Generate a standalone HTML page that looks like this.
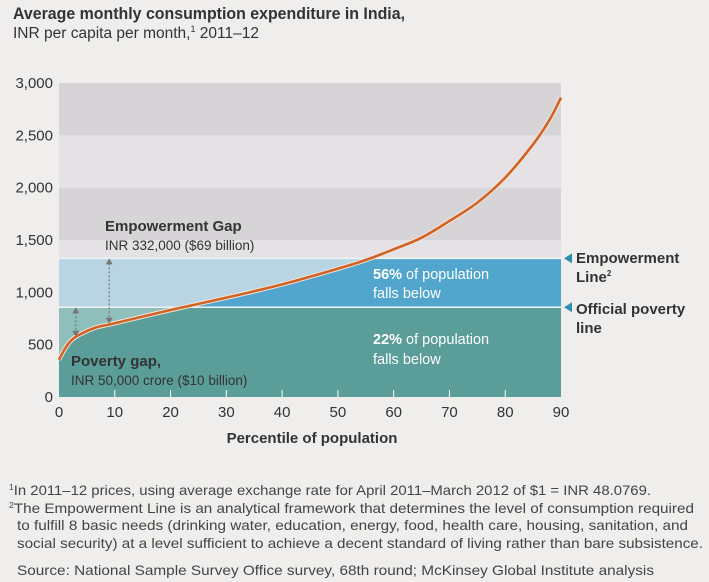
<!DOCTYPE html>
<html><head><meta charset="utf-8"><style>
html,body{margin:0;padding:0;background:#efeeec;}
svg{display:block;font-family:"Liberation Sans",sans-serif;}
</style></head><body>
<svg width="709" height="582" viewBox="0 0 709 582" id="c">
<rect x="0" y="0" width="709" height="582" fill="#efeeec"/>
<text x="13" y="19" font-size="17" font-weight="bold" fill="#333" textLength="392" lengthAdjust="spacingAndGlyphs">Average monthly consumption expenditure in India,</text>
<text x="13" y="38" font-size="15.5" fill="#333">INR per capita per month,<tspan font-size="9" dy="-6">1</tspan><tspan dy="6"> 2011–12</tspan></text>
<g id="plot"></g>
<text x="312" y="443" font-size="15" font-weight="bold" fill="#333" text-anchor="middle">Percentile of population</text>
<g font-size="14" fill="#444">
<text x="9" y="495" textLength="642" lengthAdjust="spacingAndGlyphs"><tspan font-size="8" dy="-5">1</tspan><tspan dy="5">In 2011–12 prices, using average exchange rate for April 2011–March 2012 of $1 = INR 48.0769.</tspan></text>
<text x="9" y="513" textLength="685" lengthAdjust="spacingAndGlyphs"><tspan font-size="8" dy="-5">2</tspan><tspan dy="5">The Empowerment Line is an analytical framework that determines the level of consumption required</tspan></text>
<text x="17" y="530" textLength="671" lengthAdjust="spacingAndGlyphs">to fulfill 8 basic needs (drinking water, education, energy, food, health care, housing, sanitation, and</text>
<text x="17" y="548" textLength="686" lengthAdjust="spacingAndGlyphs">social security) at a level sufficient to achieve a decent standard of living rather than bare subsistence.</text>
<text x="17" y="575" textLength="637" lengthAdjust="spacingAndGlyphs">Source: National Sample Survey Office survey, 68th round; McKinsey Global Institute analysis</text>
</g>
</svg>
<script>
const percentiles=[0,1,2,3,5,7,10,20,30,40,50,55,60,65,70,75,80,85,88,90];
const spending=[355,455,530,575,630,670,705,831,949,1076,1226,1309,1411,1522,1682,1857,2096,2414,2653,2860];
const yTicks=[0,500,1000,1500,2000,2500,3000];
const yTickLabels=["0","500","1,000","1,500","2,000","2,500","3,000"];
const xTicks=[0,10,20,30,40,50,60,70,80,90];
const empowermentLine=1325;
const povertyLine=857;

const NS="http://www.w3.org/2000/svg";
const X0=59,X1=561,Y0=397,Y1=83;
const sx=v=>X0+(v-0)/(90-0)*(X1-X0);
const sy=v=>Y0-(v-0)/(3000-0)*(Y0-Y1);
const g=document.getElementById('plot');
function mk(tag,attrs,parent){const e=document.createElementNS(NS,tag);for(const k in attrs)e.setAttribute(k,attrs[k]);(parent||g).appendChild(e);return e;}

for(let i=0;i<yTicks.length-1;i++){
  const lo=Math.max(yTicks[i],empowermentLine),hi=yTicks[i+1];
  if(hi<=lo)continue;
  const r=mk('rect',{x:X0,y:sy(hi),width:X1-X0,height:sy(lo)-sy(hi),fill:(i%2===1)?'#d6d4d7':'#e4e2e4'});
  
  
}
const rb=mk('rect',{x:X0,y:sy(empowermentLine),width:X1-X0,height:sy(povertyLine)-sy(empowermentLine),fill:'#b9d4e2'});


const rt=mk('rect',{x:X0,y:sy(povertyLine),width:X1-X0,height:Y0-sy(povertyLine),fill:'#8fbfbb'});



const pts=percentiles.map((p,i)=>[sx(p),sy(spending[i])]);
let d='M'+pts[0][0]+','+pts[0][1];
for(let i=0;i<pts.length-1;i++){
  const p0=pts[Math.max(0,i-1)],p1=pts[i],p2=pts[i+1],p3=pts[Math.min(pts.length-1,i+2)];
  const c1=[p1[0]+(p2[0]-p0[0])/6,p1[1]+(p2[1]-p0[1])/6];
  const c2=[p2[0]-(p3[0]-p1[0])/6,p2[1]-(p3[1]-p1[1])/6];
  d+=' C'+c1[0]+','+c1[1]+' '+c2[0]+','+c2[1]+' '+p2[0]+','+p2[1];
}
const area=d+' L'+sx(90)+','+Y0+' L'+sx(0)+','+Y0+' Z';
const defs=mk('defs',{});
const cp1=mk('clipPath',{id:'cBlue'},defs);mk('rect',{x:X0,y:sy(empowermentLine),width:X1-X0,height:sy(povertyLine)-sy(empowermentLine)},cp1);
const cp2=mk('clipPath',{id:'cTeal'},defs);mk('rect',{x:X0,y:sy(povertyLine),width:X1-X0,height:Y0-sy(povertyLine)},cp2);
const ab=mk('path',{d:area,fill:'#52a5cc','clip-path':'url(#cBlue)'});


const at=mk('path',{d:area,fill:'#5a9d99','clip-path':'url(#cTeal)'});



[[empowermentLine,'empowerment-line'],[povertyLine,'poverty-line']].forEach(([v,n])=>{
  const l=mk('line',{x1:X0,x2:X1,y1:sy(v),y2:sy(v),stroke:'#eef4f6','stroke-width':1.5});
  
  
  const t=mk('path',{d:`M${X1+3},${sy(v)} l8,-5 l0,10 z`,fill:'#2f8fb0'});
  
  
});

mk('path',{d:d,fill:'none',stroke:'#f4e6dc','stroke-width':4.5});
const cv=mk('path',{d:d,fill:'none',stroke:'#cf6426','stroke-width':2.6});



yTicks.forEach((v,i)=>{
  const t=mk('text',{x:53,y:sy(v)+5,'font-size':15,fill:'#333','text-anchor':'end'});
  t.textContent=yTickLabels[i];
  
  
});
xTicks.forEach(v=>{
  if(v>0&&v<90){const tk=mk('line',{x1:sx(v),x2:sx(v),y1:Y0,y2:Y0-7,stroke:'#ffffff','stroke-width':1});
  
  }
  const t=mk('text',{x:sx(v),y:417,'font-size':15,fill:'#333','text-anchor':'middle'});
  t.textContent=String(v);
  
  
});

function arrow(xv,v1,v2,name){
  const x=sx(xv),ya=sy(v1),yb=sy(v2);
  const l=mk('line',{x1:x,x2:x,y1:ya+5,y2:yb-5,stroke:'#777','stroke-width':1.2,'stroke-dasharray':'2,2'});
  
  
  mk('path',{d:`M${x},${ya} l-3.5,6 l7,0 z`,fill:'#777'});
  mk('path',{d:`M${x},${yb} l-3.5,-6 l7,0 z`,fill:'#777'});
}
arrow(9,empowermentLine,700,'empowerment-gap-arrow');
arrow(3,povertyLine,575,'poverty-gap-arrow');

function txt(x,y,s,opts,name){const t=mk('text',Object.assign({x:x,y:y,'font-size':14.5,fill:'#333'},opts||{}));t.innerHTML=s;return t;}
txt(105,231,'Empowerment Gap',{'font-weight':'bold','font-size':15},'empowerment-gap-label');
txt(105,250,'INR 332,000 ($69 billion)',{'font-size':13.5},'empowerment-gap-value');
txt(71,366,'Poverty gap,',{'font-weight':'bold','font-size':15},'poverty-gap-label');
txt(71,385,'INR 50,000 crore ($10 billion)',{'font-size':13.5},'poverty-gap-value');
txt(373,279,'<tspan font-weight="bold">56%</tspan> of population',{fill:'#fff'},'empowerment-share-label');
txt(373,298,'falls below',{fill:'#fff'},'empowerment-share-label-2');
txt(373,344,'<tspan font-weight="bold">22%</tspan> of population',{fill:'#fff'},'poverty-share-label');
txt(373,364,'falls below',{fill:'#fff'},'poverty-share-label-2');
txt(576,263,'Empowerment',{'font-weight':'bold','font-size':15},'empowerment-line-label');
txt(576,282,'Line<tspan font-size="8" dy="-6">2</tspan>',{'font-weight':'bold','font-size':15},'empowerment-line-label-2');
txt(576,314,'Official poverty',{'font-weight':'bold','font-size':15},'poverty-line-label');
txt(576,333,'line',{'font-weight':'bold','font-size':15},'poverty-line-label-2');
</script>
</body></html>
